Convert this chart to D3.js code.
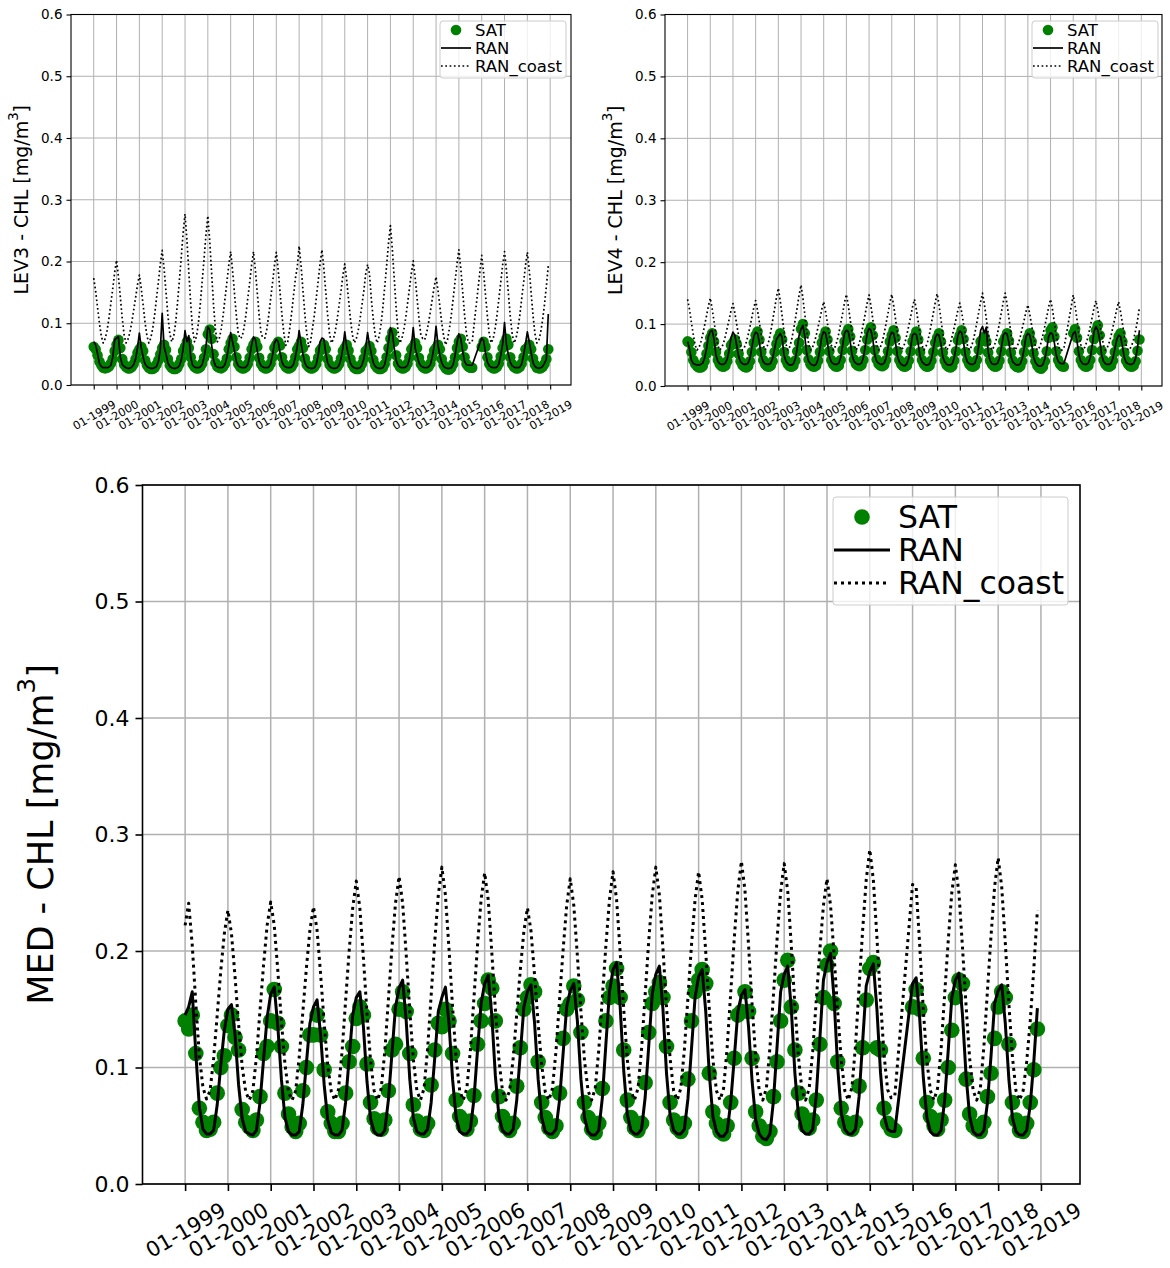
<!DOCTYPE html>
<html>
<head>
<meta charset="utf-8">
<script src="https://cdn.jsdelivr.net/npm/d3@7"></script>
<style>
  body { margin: 0; background: #fff; }
  svg { display: block; }
  text { font-family: "DejaVu Sans", sans-serif; fill: #000; }
</style>
</head>
<body>
<svg id="fig" width="1170" height="1268"></svg>
<script>
// ---- labels ----
const tickLabels = d3.range(1999, 2020).map(y => "01-" + y);   // one tick per January
const yTicks = [0, 0.1, 0.2, 0.3, 0.4, 0.5, 0.6];
const legendLabels = ["SAT", "RAN", "RAN_coast"];

// ---- monthly chlorophyll, one row per year (1999..2018), Jan..Dec; null = no data ----
const medSat = [
  [0.140,0.133,0.145,0.112,0.065,0.053,0.046,0.047,0.053,0.078,0.100,0.110],
  [0.136,0.145,0.126,0.115,0.064,0.053,0.049,0.046,0.055,0.075,0.112,0.118],
  [0.140,0.167,0.138,0.118,0.078,0.060,0.049,0.045,0.052,0.080,0.100,0.128],
  [0.128,0.145,0.128,0.098,0.062,0.052,0.045,0.045,0.052,0.078,0.105,0.118],
  [0.142,0.152,0.145,0.103,0.070,0.056,0.048,0.047,0.055,0.080,0.115,0.120],
  [0.150,0.165,0.148,0.112,0.068,0.054,0.047,0.046,0.052,0.085,0.115,0.138],
  [0.135,0.150,0.140,0.112,0.072,0.058,0.050,0.047,0.054,0.076,0.120,0.140],
  [0.155,0.175,0.168,0.140,0.075,0.058,0.049,0.046,0.052,0.084,0.117,0.150],
  [0.160,0.171,0.165,0.105,0.070,0.057,0.048,0.045,0.050,0.078,0.125,0.150],
  [0.155,0.170,0.158,0.130,0.070,0.057,0.047,0.044,0.052,0.082,0.140,0.160],
  [0.170,0.185,0.160,0.115,0.072,0.057,0.048,0.046,0.052,0.087,0.130,0.155],
  [0.165,0.173,0.160,0.118,0.070,0.055,0.048,0.045,0.052,0.090,0.140,0.165],
  [0.175,0.184,0.172,0.095,0.062,0.052,0.045,0.043,0.050,0.070,0.108,0.145],
  [0.148,0.165,0.148,0.108,0.062,0.050,0.041,0.039,0.045,0.075,0.105,0.140],
  [0.175,0.192,0.152,0.115,0.078,0.060,0.050,0.048,0.055,0.072,0.120,0.160],
  [0.188,0.200,0.155,0.105,0.065,0.053,0.048,0.047,0.053,0.084,0.117,0.158],
  [0.185,0.190,0.117,0.115,0.065,0.052,0.047,0.046,null,null,null,null],
  [0.152,0.167,0.150,0.108,0.070,0.058,0.050,0.047,0.055,0.072,0.100,0.132],
  [0.160,0.175,0.172,0.090,0.060,0.050,0.047,0.045,0.053,0.075,0.095,0.125],
  [0.152,0.165,0.160,0.120,0.070,0.055,0.046,0.045,0.052,0.070,0.098,0.133]
];
const medRan = [
  [0.145,0.152,0.165,0.112,0.066,0.047,0.043,0.043,0.046,0.068,0.102,0.132],
  [0.150,0.154,0.128,0.085,0.056,0.045,0.043,0.042,0.046,0.070,0.107,0.143],
  [0.163,0.169,0.135,0.090,0.057,0.045,0.042,0.042,0.045,0.068,0.103,0.138],
  [0.152,0.158,0.128,0.085,0.055,0.044,0.042,0.042,0.046,0.070,0.108,0.145],
  [0.160,0.165,0.135,0.088,0.056,0.045,0.042,0.042,0.046,0.072,0.112,0.152],
  [0.168,0.175,0.140,0.090,0.057,0.045,0.043,0.043,0.047,0.070,0.108,0.148],
  [0.160,0.169,0.138,0.090,0.057,0.045,0.043,0.043,0.047,0.073,0.115,0.155],
  [0.172,0.179,0.145,0.093,0.058,0.046,0.043,0.043,0.047,0.072,0.112,0.152],
  [0.165,0.171,0.138,0.090,0.057,0.045,0.043,0.043,0.047,0.072,0.112,0.152],
  [0.166,0.172,0.140,0.090,0.057,0.045,0.042,0.042,0.046,0.074,0.120,0.165],
  [0.184,0.190,0.152,0.097,0.060,0.046,0.043,0.043,0.047,0.074,0.118,0.163],
  [0.180,0.187,0.150,0.095,0.059,0.046,0.043,0.043,0.047,0.073,0.116,0.160],
  [0.178,0.184,0.148,0.094,0.058,0.045,0.041,0.041,0.045,0.070,0.108,0.148],
  [0.162,0.167,0.135,0.088,0.055,0.043,0.039,0.038,0.043,0.072,0.118,0.165],
  [0.180,0.187,0.150,0.095,0.059,0.046,0.043,0.043,0.047,0.076,0.125,0.175],
  [0.190,0.198,0.158,0.100,0.061,0.047,0.043,0.043,0.047,0.075,0.122,0.170],
  [0.182,0.189,0.150,0.096,0.059,0.047,0.045,0.045,null,null,null,null],
  [0.172,0.177,0.142,0.092,0.057,0.045,0.042,0.042,0.046,0.072,0.115,0.160],
  [0.175,0.181,0.145,0.093,0.058,0.045,0.042,0.042,0.046,0.070,0.110,0.155],
  [0.166,0.171,0.138,0.090,0.057,0.045,0.042,0.042,0.046,0.068,0.105,0.151]
];
const medCoast = [
  [0.222,0.241,0.205,0.155,0.110,0.083,0.073,0.080,0.108,0.145,0.183,0.215],
  [0.235,0.215,0.178,0.137,0.101,0.079,0.072,0.080,0.109,0.149,0.188,0.222],
  [0.242,0.222,0.183,0.140,0.103,0.079,0.072,0.080,0.109,0.147,0.185,0.218],
  [0.238,0.218,0.180,0.138,0.102,0.079,0.072,0.081,0.113,0.157,0.200,0.237],
  [0.260,0.237,0.194,0.147,0.106,0.080,0.072,0.082,0.114,0.158,0.203,0.241],
  [0.264,0.241,0.197,0.149,0.107,0.080,0.072,0.082,0.116,0.162,0.208,0.248],
  [0.272,0.248,0.202,0.152,0.108,0.080,0.072,0.082,0.115,0.160,0.205,0.244],
  [0.267,0.244,0.199,0.150,0.107,0.080,0.072,0.080,0.108,0.146,0.184,0.217],
  [0.237,0.217,0.179,0.138,0.102,0.079,0.072,0.082,0.114,0.158,0.201,0.239],
  [0.262,0.239,0.196,0.148,0.106,0.080,0.072,0.082,0.115,0.160,0.205,0.244],
  [0.268,0.244,0.199,0.150,0.107,0.080,0.072,0.082,0.116,0.162,0.208,0.248],
  [0.272,0.248,0.202,0.152,0.108,0.080,0.072,0.082,0.115,0.160,0.205,0.244],
  [0.268,0.244,0.199,0.150,0.107,0.080,0.072,0.082,0.117,0.164,0.211,0.252],
  [0.277,0.252,0.205,0.154,0.109,0.080,0.072,0.082,0.117,0.163,0.210,0.251],
  [0.275,0.251,0.204,0.153,0.109,0.080,0.072,0.082,0.114,0.158,0.201,0.239],
  [0.262,0.239,0.196,0.148,0.106,0.080,0.072,0.083,0.119,0.169,0.218,0.261],
  [0.287,0.261,0.212,0.158,0.111,0.081,0.074,0.075,null,null,null,null],
  [0.257,0.255,0.205,0.150,0.106,0.080,0.072,0.082,0.116,0.163,0.209,0.250],
  [0.274,0.250,0.203,0.153,0.108,0.080,0.072,0.082,0.118,0.166,0.213,0.255],
  [0.280,0.255,0.207,0.155,0.109,0.080,0.072,0.080,0.105,0.140,0.185,0.235]
];

const lev3Sat = [
  [0.062,0.058,0.048,0.038,0.032,0.028,0.027,0.028,0.030,0.035,0.042,0.055],
  [0.065,0.073,0.060,0.042,0.033,0.029,0.027,0.027,0.029,0.034,0.042,0.052],
  [0.058,0.062,0.055,0.040,0.032,0.028,0.026,0.026,0.028,0.033,0.040,0.050],
  [0.060,0.065,0.057,0.042,0.032,0.028,0.026,0.026,0.028,0.034,0.042,0.055],
  [0.062,0.070,0.060,0.045,0.034,0.029,0.027,0.027,0.029,0.035,0.044,0.058],
  [0.082,0.090,0.075,0.050,0.036,0.030,0.028,0.027,0.029,0.034,0.043,0.058],
  [0.068,0.075,0.062,0.045,0.034,0.029,0.027,0.027,0.029,0.034,0.044,0.058],
  [0.065,0.070,0.062,0.044,0.034,0.029,0.027,0.027,0.029,0.035,0.045,0.060],
  [0.065,0.070,0.064,0.045,0.034,0.029,0.027,0.027,0.029,0.035,0.045,0.058],
  [0.063,0.070,0.060,0.043,0.033,0.029,0.027,0.027,0.029,0.034,0.044,0.056],
  [0.060,0.065,0.058,0.042,0.033,0.029,0.027,0.027,0.029,0.034,0.043,0.055],
  [0.060,0.065,0.056,0.042,0.033,0.028,0.026,0.026,0.028,0.034,0.043,0.055],
  [0.058,0.063,0.055,0.041,0.032,0.028,0.026,0.026,0.028,0.034,0.045,0.060],
  [0.075,0.085,0.070,0.048,0.035,0.029,0.027,0.027,0.029,0.035,0.045,0.058],
  [0.062,0.068,0.060,0.044,0.034,0.029,0.027,0.027,0.029,0.035,0.045,0.056],
  [0.060,0.065,0.058,0.042,0.032,0.027,0.025,0.025,0.028,0.034,0.045,0.060],
  [0.070,0.075,0.062,0.045,0.034,0.030,0.028,0.028,null,null,null,null],
  [0.062,0.070,0.062,0.045,0.034,0.029,0.027,0.027,0.029,0.035,0.046,0.060],
  [0.068,0.075,0.065,0.045,0.034,0.029,0.027,0.027,0.029,0.035,0.045,0.058],
  [0.060,0.065,0.058,0.043,0.033,0.028,0.027,0.027,0.029,0.034,0.042,0.058]
];
const lev3Ran = [
  [0.070,0.065,0.051,0.035,0.030,0.028,0.028,0.028,0.029,0.032,0.045,0.073],
  [0.076,0.078,0.045,0.033,0.030,0.028,0.027,0.027,0.029,0.033,0.042,0.060],
  [0.084,0.060,0.045,0.034,0.030,0.028,0.027,0.027,0.028,0.030,0.038,0.057],
  [0.116,0.062,0.050,0.036,0.030,0.028,0.027,0.027,0.028,0.031,0.040,0.058],
  [0.088,0.070,0.080,0.045,0.032,0.029,0.028,0.028,0.029,0.033,0.045,0.062],
  [0.094,0.090,0.065,0.040,0.031,0.029,0.028,0.028,0.029,0.033,0.045,0.063],
  [0.085,0.070,0.055,0.038,0.031,0.029,0.028,0.028,0.029,0.033,0.046,0.065],
  [0.078,0.074,0.055,0.038,0.031,0.029,0.028,0.028,0.029,0.034,0.048,0.068],
  [0.074,0.070,0.052,0.037,0.031,0.029,0.028,0.028,0.029,0.033,0.045,0.062],
  [0.088,0.068,0.050,0.036,0.030,0.028,0.027,0.027,0.028,0.033,0.048,0.070],
  [0.076,0.074,0.052,0.036,0.030,0.028,0.027,0.027,0.028,0.032,0.042,0.060],
  [0.086,0.062,0.048,0.035,0.030,0.028,0.027,0.027,0.028,0.032,0.042,0.060],
  [0.085,0.065,0.050,0.036,0.030,0.028,0.027,0.027,0.028,0.033,0.048,0.070],
  [0.093,0.085,0.060,0.040,0.032,0.029,0.028,0.028,0.029,0.032,0.042,0.062],
  [0.093,0.060,0.048,0.036,0.031,0.029,0.028,0.028,0.029,0.033,0.045,0.063],
  [0.095,0.065,0.048,0.036,0.030,0.028,0.027,0.027,0.028,0.033,0.048,0.068],
  [0.083,0.075,0.055,0.038,0.033,0.032,0.032,0.032,null,null,null,null],
  [0.076,0.072,0.052,0.037,0.031,0.029,0.028,0.028,0.029,0.034,0.048,0.066],
  [0.101,0.065,0.050,0.037,0.031,0.029,0.028,0.028,0.029,0.034,0.048,0.066],
  [0.086,0.070,0.052,0.036,0.030,0.028,0.027,0.028,0.030,0.035,0.042,0.115]
];
const lev3Coast = [
  [0.173,0.152,0.126,0.100,0.079,0.068,0.075,0.088,0.108,0.132,0.156,0.182],
  [0.202,0.175,0.142,0.108,0.081,0.068,0.074,0.085,0.101,0.121,0.141,0.162],
  [0.178,0.156,0.129,0.101,0.079,0.068,0.076,0.091,0.113,0.140,0.167,0.196],
  [0.218,0.188,0.151,0.113,0.083,0.070,0.078,0.099,0.131,0.168,0.206,0.246],
  [0.277,0.235,0.183,0.131,0.089,0.070,0.078,0.099,0.130,0.167,0.204,0.243],
  [0.274,0.233,0.181,0.130,0.089,0.070,0.075,0.090,0.112,0.139,0.166,0.194],
  [0.216,0.186,0.149,0.112,0.083,0.075,0.078,0.092,0.113,0.140,0.166,0.194],
  [0.216,0.186,0.149,0.112,0.083,0.076,0.076,0.090,0.112,0.139,0.165,0.193],
  [0.215,0.186,0.149,0.112,0.083,0.064,0.070,0.090,0.115,0.143,0.172,0.190],
  [0.225,0.194,0.154,0.115,0.084,0.062,0.070,0.091,0.113,0.140,0.168,0.196],
  [0.219,0.189,0.151,0.113,0.083,0.068,0.074,0.087,0.106,0.129,0.152,0.177],
  [0.196,0.170,0.138,0.106,0.081,0.068,0.074,0.087,0.106,0.129,0.152,0.180],
  [0.195,0.180,0.138,0.106,0.081,0.068,0.078,0.097,0.125,0.159,0.193,0.230],
  [0.258,0.220,0.173,0.125,0.087,0.068,0.075,0.088,0.108,0.132,0.156,0.181],
  [0.201,0.174,0.141,0.108,0.081,0.075,0.073,0.084,0.100,0.119,0.139,0.159],
  [0.175,0.154,0.127,0.100,0.079,0.065,0.073,0.091,0.113,0.140,0.168,0.196],
  [0.219,0.189,0.151,0.113,0.083,0.068,0.068,0.070,null,null,null,null],
  [0.210,0.182,0.146,0.111,0.082,0.068,0.075,0.090,0.112,0.139,0.166,0.194],
  [0.216,0.186,0.149,0.112,0.083,0.068,0.075,0.090,0.112,0.139,0.165,0.193],
  [0.215,0.186,0.149,0.112,0.083,0.068,0.072,0.085,0.105,0.130,0.160,0.193]
];

const lev4Sat = [
  [0.072,0.070,0.055,0.042,0.036,0.032,0.030,0.030,0.032,0.040,0.052,0.065],
  [0.078,0.085,0.072,0.055,0.042,0.035,0.032,0.031,0.033,0.040,0.052,0.066],
  [0.070,0.075,0.068,0.052,0.040,0.034,0.031,0.030,0.032,0.040,0.055,0.070],
  [0.082,0.088,0.075,0.055,0.042,0.035,0.032,0.031,0.033,0.040,0.055,0.068],
  [0.078,0.085,0.075,0.055,0.042,0.035,0.032,0.031,0.033,0.041,0.056,0.070],
  [0.092,0.100,0.085,0.058,0.043,0.035,0.032,0.031,0.033,0.041,0.055,0.070],
  [0.080,0.088,0.075,0.056,0.042,0.035,0.032,0.031,0.033,0.042,0.058,0.072],
  [0.085,0.092,0.080,0.057,0.043,0.036,0.033,0.032,0.034,0.042,0.058,0.075],
  [0.088,0.095,0.082,0.058,0.043,0.036,0.033,0.032,0.034,0.042,0.056,0.072],
  [0.082,0.090,0.078,0.056,0.042,0.035,0.032,0.031,0.033,0.041,0.056,0.072],
  [0.080,0.088,0.075,0.055,0.042,0.035,0.032,0.031,0.033,0.041,0.055,0.070],
  [0.078,0.085,0.072,0.054,0.041,0.034,0.031,0.030,0.032,0.041,0.056,0.074],
  [0.082,0.090,0.076,0.055,0.042,0.035,0.032,0.031,0.033,0.042,0.058,0.072],
  [0.075,0.080,0.072,0.054,0.041,0.035,0.032,0.031,0.033,0.041,0.056,0.072],
  [0.078,0.085,0.073,0.054,0.041,0.034,0.031,0.030,0.032,0.040,0.055,0.070],
  [0.078,0.085,0.072,0.053,0.040,0.033,0.029,0.028,0.031,0.040,0.056,0.078],
  [0.090,0.095,0.080,0.056,0.042,0.035,0.032,0.031,null,null,null,null],
  [0.085,0.092,0.078,0.056,0.042,0.035,0.032,0.031,0.033,0.042,0.058,0.076],
  [0.090,0.098,0.082,0.057,0.042,0.035,0.032,0.031,0.033,0.041,0.055,0.070],
  [0.080,0.085,0.072,0.054,0.041,0.035,0.032,0.031,0.033,0.040,0.057,0.075]
];
const lev4Ran = [
  [0.072,0.060,0.042,0.036,0.035,0.034,0.034,0.035,0.037,0.045,0.060,0.080],
  [0.088,0.090,0.075,0.050,0.040,0.036,0.035,0.035,0.037,0.044,0.058,0.078],
  [0.087,0.082,0.065,0.048,0.039,0.036,0.035,0.035,0.037,0.045,0.062,0.080],
  [0.087,0.085,0.070,0.048,0.039,0.036,0.035,0.035,0.037,0.045,0.060,0.075],
  [0.080,0.085,0.078,0.050,0.040,0.036,0.034,0.034,0.036,0.044,0.062,0.082],
  [0.092,0.098,0.080,0.052,0.040,0.036,0.034,0.033,0.035,0.043,0.060,0.080],
  [0.088,0.085,0.070,0.048,0.039,0.036,0.035,0.035,0.037,0.046,0.065,0.085],
  [0.090,0.088,0.072,0.050,0.040,0.037,0.035,0.035,0.037,0.046,0.065,0.085],
  [0.093,0.090,0.075,0.050,0.040,0.037,0.035,0.035,0.037,0.045,0.062,0.080],
  [0.087,0.085,0.070,0.048,0.039,0.035,0.033,0.033,0.036,0.045,0.063,0.082],
  [0.085,0.083,0.068,0.047,0.039,0.036,0.034,0.034,0.036,0.044,0.060,0.078],
  [0.084,0.082,0.068,0.047,0.039,0.035,0.034,0.034,0.036,0.045,0.062,0.082],
  [0.089,0.086,0.070,0.048,0.039,0.036,0.035,0.035,0.037,0.046,0.065,0.090],
  [0.096,0.085,0.095,0.055,0.041,0.036,0.035,0.035,0.037,0.045,0.062,0.082],
  [0.086,0.084,0.070,0.048,0.039,0.036,0.034,0.034,0.036,0.044,0.060,0.080],
  [0.085,0.082,0.068,0.047,0.038,0.034,0.032,0.032,0.035,0.044,0.060,0.080],
  [0.086,0.084,0.070,0.050,0.040,0.037,0.036,0.036,null,null,null,null],
  [0.085,0.088,0.072,0.050,0.040,0.036,0.035,0.035,0.037,0.046,0.065,0.088],
  [0.096,0.090,0.075,0.050,0.040,0.036,0.035,0.035,0.037,0.045,0.060,0.075],
  [0.082,0.080,0.065,0.046,0.038,0.036,0.035,0.035,0.037,0.045,0.062,0.090]
];
const lev4Coast = [
  [0.140,0.124,0.103,0.083,0.066,0.058,0.062,0.071,0.083,0.098,0.113,0.129],
  [0.142,0.125,0.104,0.083,0.066,0.058,0.062,0.069,0.081,0.094,0.108,0.122],
  [0.133,0.118,0.099,0.081,0.066,0.058,0.062,0.070,0.082,0.096,0.111,0.126],
  [0.138,0.122,0.102,0.082,0.066,0.058,0.063,0.073,0.088,0.106,0.124,0.143],
  [0.158,0.138,0.113,0.088,0.068,0.058,0.063,0.074,0.090,0.108,0.127,0.147],
  [0.163,0.142,0.116,0.090,0.069,0.058,0.062,0.070,0.081,0.095,0.109,0.124],
  [0.136,0.120,0.101,0.081,0.066,0.058,0.063,0.072,0.085,0.101,0.117,0.135],
  [0.148,0.130,0.108,0.085,0.067,0.058,0.062,0.071,0.085,0.101,0.117,0.134],
  [0.147,0.129,0.107,0.085,0.067,0.058,0.063,0.072,0.085,0.101,0.117,0.135],
  [0.148,0.130,0.108,0.085,0.067,0.058,0.062,0.070,0.083,0.097,0.112,0.128],
  [0.140,0.124,0.103,0.083,0.066,0.058,0.063,0.072,0.085,0.102,0.118,0.135],
  [0.149,0.131,0.108,0.085,0.067,0.058,0.062,0.069,0.081,0.094,0.108,0.123],
  [0.134,0.119,0.100,0.081,0.066,0.058,0.063,0.072,0.086,0.102,0.119,0.136],
  [0.150,0.132,0.109,0.086,0.067,0.058,0.063,0.072,0.086,0.102,0.119,0.136],
  [0.150,0.132,0.109,0.086,0.067,0.058,0.062,0.069,0.080,0.093,0.106,0.120],
  [0.131,0.116,0.098,0.080,0.065,0.058,0.062,0.070,0.083,0.097,0.112,0.128],
  [0.140,0.124,0.103,0.083,0.066,0.058,0.058,0.060,null,null,null,null],
  [0.147,0.129,0.107,0.085,0.067,0.058,0.062,0.070,0.082,0.096,0.111,0.126],
  [0.138,0.122,0.102,0.082,0.066,0.058,0.062,0.070,0.081,0.095,0.109,0.124],
  [0.136,0.120,0.101,0.081,0.066,0.058,0.060,0.066,0.076,0.090,0.106,0.127]
];

// ---- drawing ----
const svg = d3.select("#fig");
const GREEN = "#008000";

const small = {
  yTickFont: 13.5, xTickFont: 11.3, labelFont: 19, legendFont: 16.5,
  r: 5.3, ranW: 1.7, coastW: 1.7, dash: "1.7,2.6",
  gridW: 1, spineW: 1.1, tickLen: 4.5, yPad: 4,
  xLabelOffset: 30, legendRow: 18, legendLine: 30, legendText: 35, legendPadTop: 9
};
const big = {
  yTickFont: 22, xTickFont: 21, labelFont: 35, legendFont: 31.5,
  r: 7.8, ranW: 3, coastW: 3, dash: "3,4",
  gridW: 1.5, spineW: 1.6, tickLen: 7, yPad: 6,
  xLabelOffset: 46, legendRow: 33, legendLine: 56, legendText: 65, legendPadTop: 20
};

const panels = [
  { name: "LEV3", sat: lev3Sat, ran: lev3Ran, coast: lev3Coast, st: small,
    l: 71, r: 571, t: 14.5, b: 385, labelX: 21, legend: { x: 440, y: 21, w: 126, h: 57 } },
  { name: "LEV4", sat: lev4Sat, ran: lev4Ran, coast: lev4Coast, st: small,
    l: 665, r: 1162, t: 14.5, b: 386, labelX: 615, legend: { x: 1032, y: 21, w: 126, h: 57 } },
  { name: "MED", sat: medSat, ran: medRan, coast: medCoast, st: big,
    l: 142.5, r: 1080, t: 485, b: 1184, labelX: 41, legend: { x: 833, y: 497, w: 235, h: 108 } }
];

// month index 0 = Jan 1999; axis limits leave a 5% margin around 0..239
const points = rows => rows.flat().map((v, i) => ({ i, v })).filter(d => d.v !== null);

panels.forEach(p => {
  const st = p.st;
  const x = d3.scaleLinear().domain([-11.95, 250.95]).range([p.l, p.r]);
  const y = d3.scaleLinear().domain([0, 0.6]).range([p.b, p.t]);
  const monthTicks = d3.range(0, 241, 12);
  const g = svg.append("g").attr("class", "panel-" + p.name);

  // grid
  const grid = g.append("g").attr("stroke", "#b0b0b0").attr("stroke-width", st.gridW);
  grid.selectAll("line.v").data(monthTicks).join("line").attr("class", "v")
    .attr("x1", d => x(d)).attr("x2", d => x(d)).attr("y1", p.t).attr("y2", p.b);
  grid.selectAll("line.h").data(yTicks).join("line").attr("class", "h")
    .attr("x1", p.l).attr("x2", p.r).attr("y1", d => y(d)).attr("y2", d => y(d));

  // satellite observations
  g.append("g").selectAll("circle").data(points(p.sat)).join("circle")
    .attr("cx", d => x(d.i)).attr("cy", d => y(d.v)).attr("r", st.r).attr("fill", GREEN);

  const line = d3.line().x(d => x(d.i)).y(d => y(d.v));
  // reanalysis, open sea
  g.append("path").attr("d", line(points(p.ran)))
    .attr("fill", "none").attr("stroke", "#000").attr("stroke-width", st.ranW)
    .attr("stroke-linejoin", "round");
  // reanalysis, coastal
  g.append("path").attr("d", line(points(p.coast)))
    .attr("fill", "none").attr("stroke", "#000").attr("stroke-width", st.coastW)
    .attr("stroke-dasharray", st.dash).attr("stroke-linejoin", "round");

  // frame
  g.append("rect").attr("x", p.l).attr("y", p.t).attr("width", p.r - p.l).attr("height", p.b - p.t)
    .attr("fill", "none").attr("stroke", "#000").attr("stroke-width", st.spineW);

  // x axis
  const xAxis = g.append("g").attr("transform", `translate(0,${p.b})`)
    .call(d3.axisBottom(x).tickValues(monthTicks).tickFormat((d, i) => tickLabels[i]).tickSize(st.tickLen));
  xAxis.select(".domain").remove();
  xAxis.selectAll("line").attr("stroke", "#000").attr("stroke-width", st.spineW);
  xAxis.selectAll("text")
    .attr("y", 0).attr("dy", "0.35em")
    .attr("transform", `translate(0,${st.xLabelOffset}) rotate(-30)`)
    .attr("text-anchor", "middle")
    .style("font-family", "'DejaVu Sans', sans-serif").style("font-size", st.xTickFont + "px");

  // y axis
  const yAxis = g.append("g").attr("transform", `translate(${p.l},0)`)
    .call(d3.axisLeft(y).tickValues(yTicks).tickFormat(d3.format(".1f")).tickSize(st.tickLen).tickPadding(st.yPad));
  yAxis.select(".domain").remove();
  yAxis.selectAll("line").attr("stroke", "#000").attr("stroke-width", st.spineW);
  yAxis.selectAll("text")
    .style("font-family", "'DejaVu Sans', sans-serif").style("font-size", st.yTickFont + "px");

  // y label
  const cy = (p.t + p.b) / 2;
  const lab = g.append("text")
    .attr("transform", `translate(${p.labelX},${cy}) rotate(-90)`)
    .attr("text-anchor", "middle").attr("dominant-baseline", "central")
    .style("font-size", st.labelFont + "px");
  lab.append("tspan").text(p.name + " - CHL [mg/m");
  lab.append("tspan").text("3").attr("baseline-shift", "super").style("font-size", (st.labelFont * 0.7) + "px");
  lab.append("tspan").text("]");

  // legend
  const L = p.legend;
  const lg = g.append("g");
  lg.append("rect").attr("x", L.x).attr("y", L.y).attr("width", L.w).attr("height", L.h)
    .attr("rx", 3).attr("fill", "#fff").attr("fill-opacity", 0.8)
    .attr("stroke", "#cccccc").attr("stroke-width", 1);
  const rowY = k => L.y + st.legendPadTop + k * st.legendRow;
  const x0 = L.x + 1, x1 = L.x + 1 + st.legendLine;
  lg.append("circle").attr("cx", (x0 + x1) / 2).attr("cy", rowY(0)).attr("r", st.r).attr("fill", GREEN);
  lg.append("line").attr("x1", x0).attr("x2", x1).attr("y1", rowY(1)).attr("y2", rowY(1))
    .attr("stroke", "#000").attr("stroke-width", st.ranW);
  lg.append("line").attr("x1", x0).attr("x2", x1).attr("y1", rowY(2)).attr("y2", rowY(2))
    .attr("stroke", "#000").attr("stroke-width", st.coastW).attr("stroke-dasharray", st.dash);
  lg.selectAll("text").data(legendLabels).join("text")
    .attr("x", L.x + st.legendText).attr("y", (d, k) => rowY(k))
    .attr("dominant-baseline", "central")
    .style("font-size", st.legendFont + "px")
    .text(d => d);
});
</script>
</body>
</html>
